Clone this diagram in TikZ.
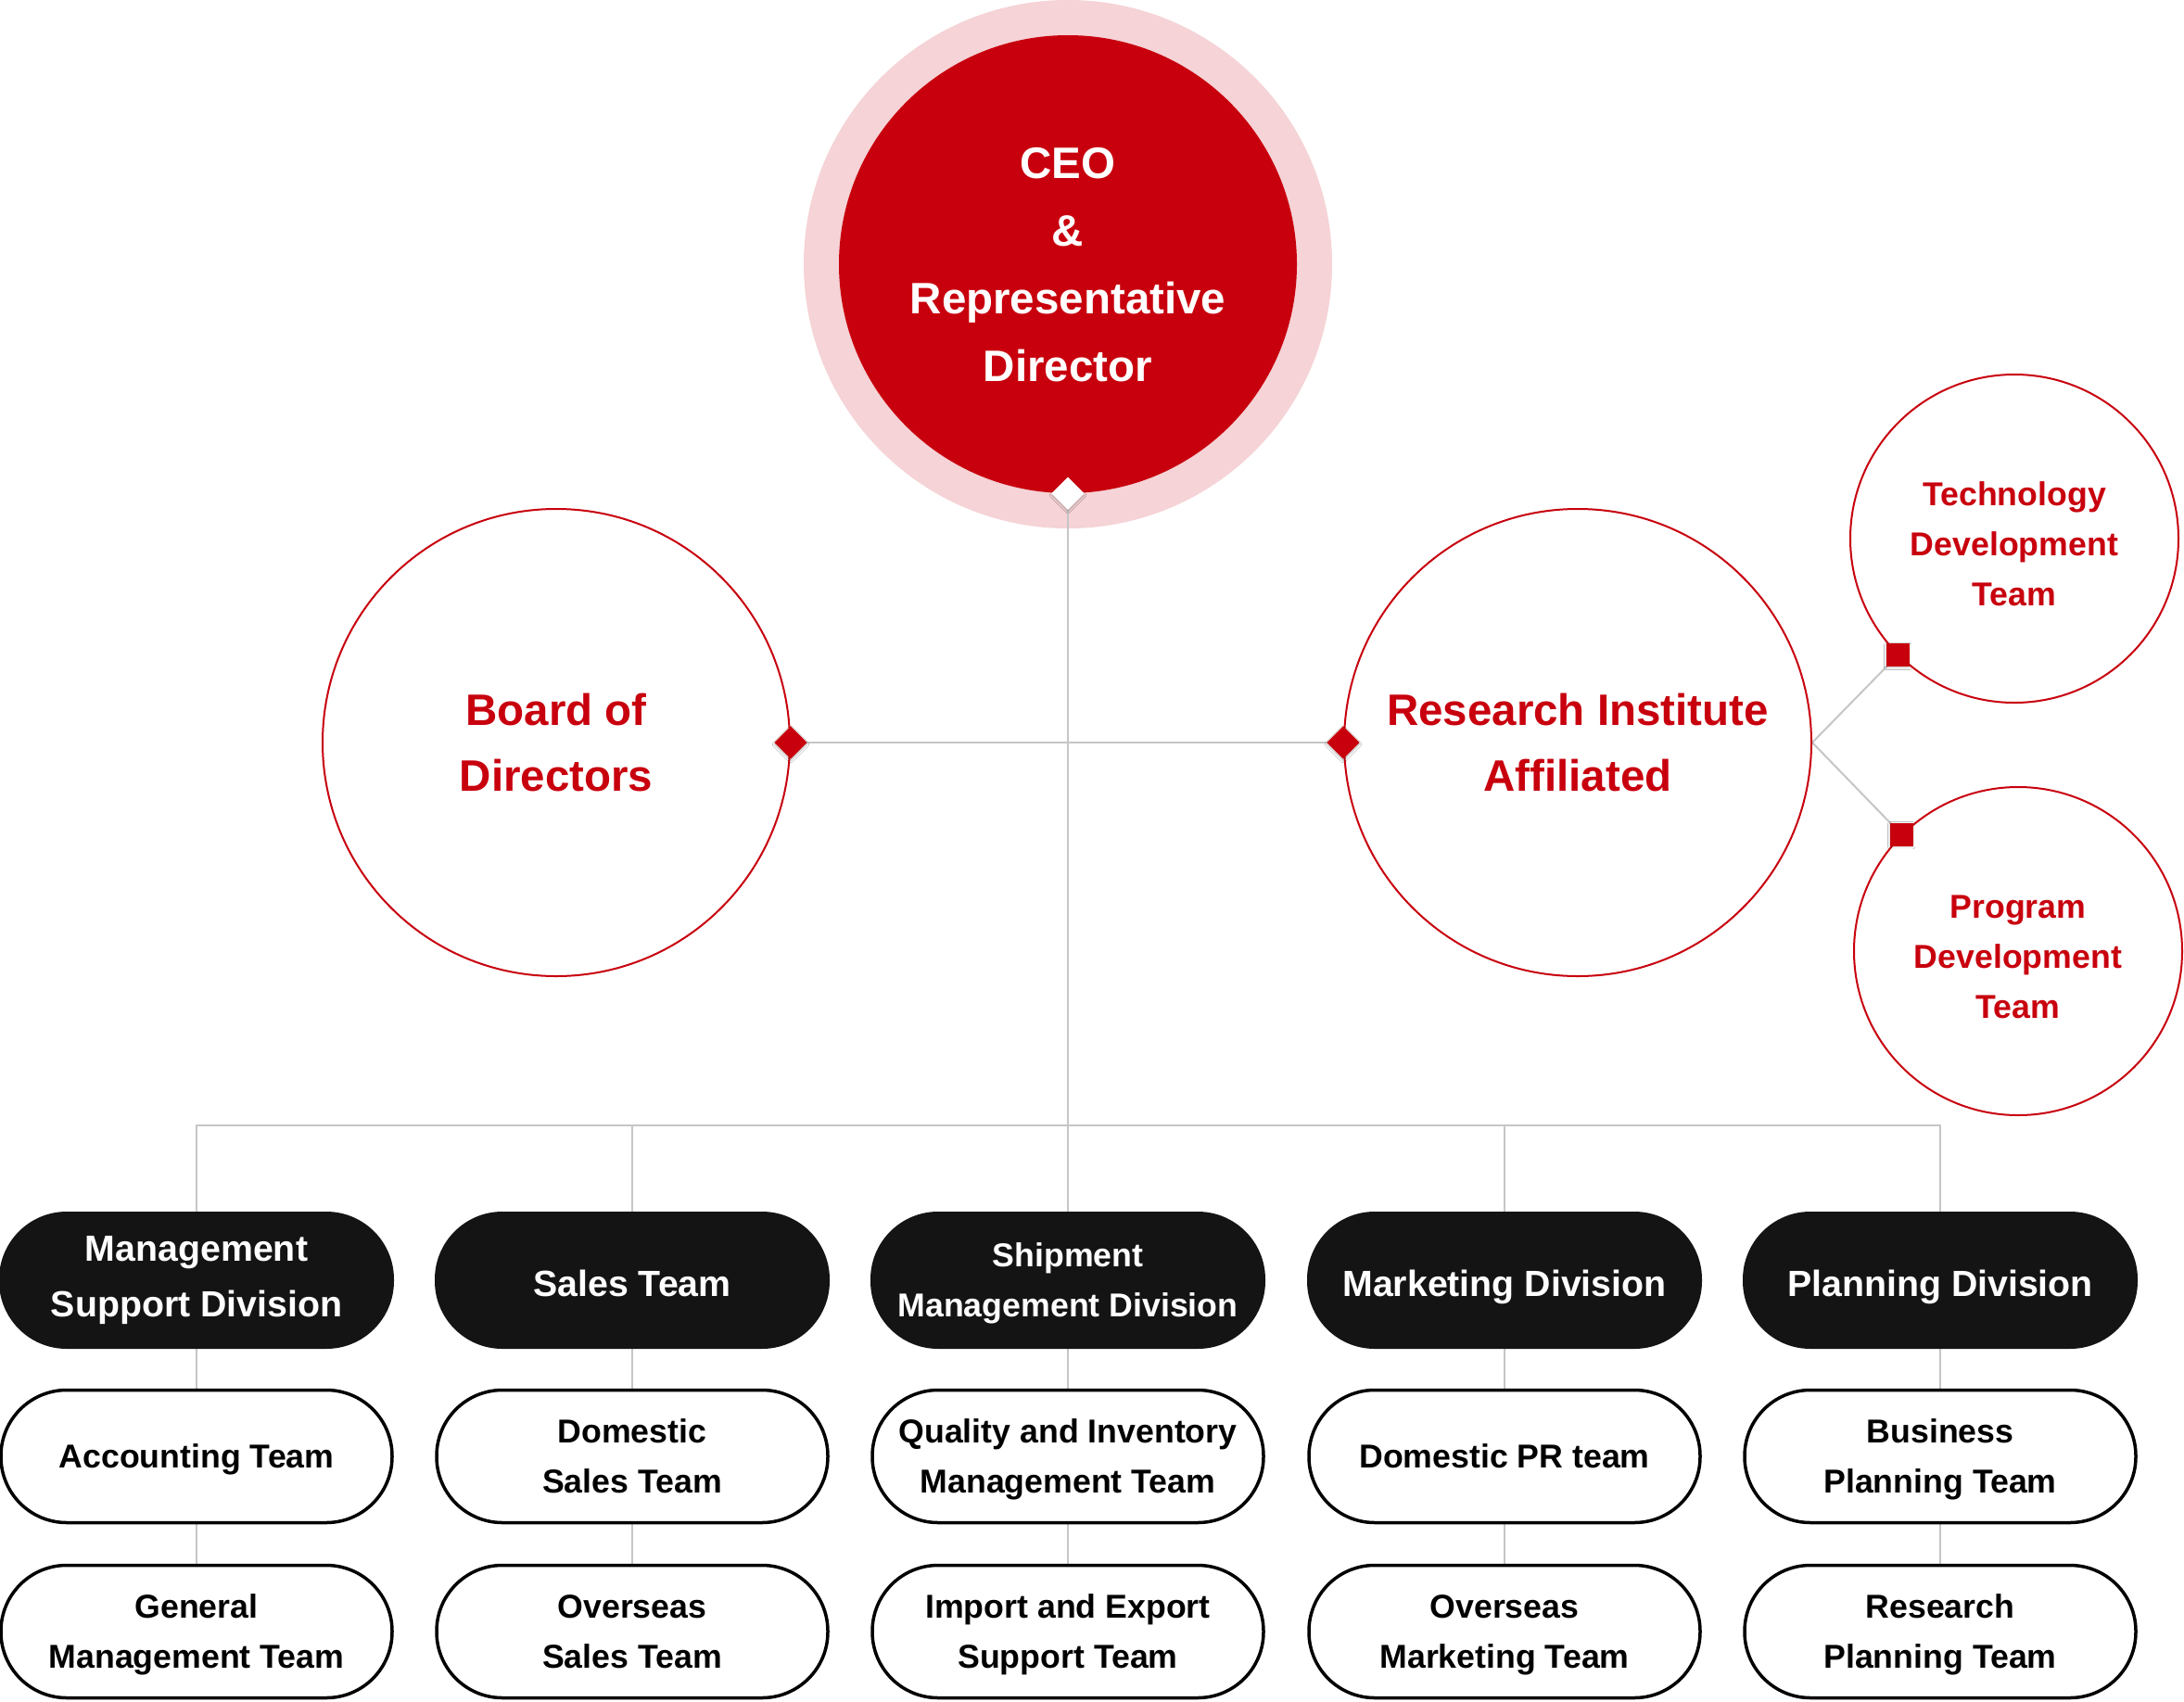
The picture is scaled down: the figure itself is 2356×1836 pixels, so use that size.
\documentclass[tikz,border=0pt]{standalone}
\usepackage{fontspec}
\setmainfont{Liberation Sans}
\usetikzlibrary{shadows.blur}
\definecolor{cred}{HTML}{C8000E}
\definecolor{cpink}{HTML}{F5D3D6}
\definecolor{cblack}{HTML}{141414}
\definecolor{cgrey}{HTML}{C6C6C6}
\newcommand\mystrut{\vrule width 0pt height 1.016em depth 0.3em\relax}
\newcommand\uphstrut{\vrule width 0pt height 1.17em\relax}
\newcommand\dnstrut{\vrule width 0pt depth 0.53em\relax}
\pgfdeclarelayer{bg}
\pgfsetlayers{bg,main}
\begin{document}
\begin{tikzpicture}[x=1pt,y=-1pt,
  every node/.style={execute at end node=\mystrut},
  conn/.style={draw=cgrey, line width=2pt},
  bigcirc/.style={circle, draw=cred, line width=2pt, fill=white, minimum size=504pt, inner sep=0pt, text=cred, font=\fontsize{47.5}{71}\selectfont\bfseries, align=center},
  smallcirc/.style={circle, draw=cred, line width=2pt, fill=white, minimum size=354pt, inner sep=0pt},
  smalltext/.style={text=cred, font=\fontsize{35.7}{54}\selectfont\bfseries, align=center, inner sep=0pt},
  divbox/.style={rectangle, rounded corners=73pt, fill=cblack, minimum width=426pt, minimum height=148pt, inner sep=0pt, text=white, align=center},
  divfont/.style={font=\fontsize{39.3}{60}\selectfont\bfseries},
  divsmall/.style={font=\fontsize{35.7}{54}\selectfont\bfseries},
  teambox/.style={rectangle, rounded corners=71pt, draw=black, line width=3.5pt, fill=white, minimum width=422pt, minimum height=143pt, inner sep=0pt, text=black, align=center, font=\fontsize{35.7}{54}\selectfont\bfseries},
  rdiam/.style={rectangle, rotate=45, fill=cred, minimum size=25pt, inner sep=0pt, blur shadow={shadow xshift=0pt, shadow yshift=-2pt, shadow opacity=25, shadow blur steps=6}},
  wdiam/.style={rectangle, rotate=45, fill=white, minimum size=25pt, inner sep=0pt, blur shadow={shadow xshift=0pt, shadow yshift=-2pt, shadow opacity=25, shadow blur steps=6}},
  rsq/.style={rectangle, fill=cred, minimum size=25pt, inner sep=0pt, blur shadow={shadow xshift=0pt, shadow yshift=-1pt, shadow opacity=20, shadow blur steps=6}}
]
\useasboundingbox (0,0) rectangle (2356,1836);

% top
\node[circle, fill=cpink, minimum size=570pt, inner sep=0pt] (ceoring) at (1152,285) {};
\node[circle, fill=cred, minimum size=494pt, inner sep=0pt, text=white, align=center, font=\fontsize{47.5}{73}\selectfont\bfseries] (ceo) at (1152,285) {\mystrut CEO\\\&\\Representative\\Director};

% middle
\node[bigcirc] (bod) at (600,801) {\mystrut Board of\\Directors};
\node[bigcirc] (ri) at (1702,801) {\mystrut Research Institute\\Affiliated};
\node[smallcirc] (td) at (2173,581) {};
\node[smalltext] (tdt) at ([yshift=-6pt]td.center) {\mystrut Technology\\Development\\Team};
\node[smallcirc] (pd) at (2177,1026) {};
\node[smalltext] (pdt) at ([yshift=-6pt]pd.center) {\mystrut Program\\Development\\Team};

% divisions
\node[divbox, divfont] (mgmt) at (212,1381) {\mystrut Management\\Support Division\dnstrut};
\node[divbox, divfont] (sales) at (682,1381) {\mystrut\uphstrut Sales Team};
\node[divbox, divsmall] (ship) at (1152,1381) {\mystrut Shipment\\Management Division};
\node[divbox, divfont] (mkt) at (1623,1381) {\mystrut\uphstrut Marketing Division};
\node[divbox, divfont] (plan) at (2093,1381) {\mystrut\uphstrut Planning Division};

% teams row 1
\node[teambox] (acc) at (212,1571) {\mystrut Accounting Team};
\node[teambox] (dsales) at (682,1571) {\mystrut Domestic\\Sales Team};
\node[teambox] (qim) at (1152,1571) {\mystrut Quality and Inventory\\Management Team};
\node[teambox] (dpr) at (1623,1571) {\mystrut Domestic PR team};
\node[teambox] (bpt) at (2093,1571) {\mystrut Business\\Planning Team};

% teams row 2
\node[teambox] (gmt) at (212,1760) {\mystrut General\\Management Team};
\node[teambox] (osales) at (682,1760) {\mystrut Overseas\\Sales Team};
\node[teambox] (ies) at (1152,1760) {\mystrut Import and Export\\Support Team};
\node[teambox] (omkt) at (1623,1760) {\mystrut Overseas\\Marketing Team};
\node[teambox] (rpt) at (2093,1760) {\mystrut Research\\Planning Team};

\coordinate (bus) at (1152,1214);

% CEO trunk (drawn over the ring, under the marker)
\draw[conn] (ceo.south) -- (ship.north);

% markers
\node[wdiam] (ceod) at (ceo.south) {};
\node[rdiam] (bodd) at (bod.east) {};
\node[rdiam] (rid) at (ri.west) {};
\node[rsq] (tds) at (td.225) {};
\node[rsq] (pds) at (pd.135) {};

\begin{pgfonlayer}{bg}
\fill[white] (0,0) rectangle (2356,1836);
\draw[conn] (bodd.center) -- (rid.center);
\draw[conn] (tds.center) -- (ri.east) -- (pds.center);
\draw[conn] (mgmt.north) -- (mgmt.north |- bus) -- (plan.north |- bus) -- (plan.north);
\draw[conn] (sales.north) -- (sales.north |- bus);
\draw[conn] (mkt.north) -- (mkt.north |- bus);
\foreach \a/\b/\c in {mgmt/acc/gmt, sales/dsales/osales, ship/qim/ies, mkt/dpr/omkt, plan/bpt/rpt}{
  \draw[conn] (\a.south) -- (\b.north);
  \draw[conn] (\b.south) -- (\c.north);
}
\end{pgfonlayer}
\end{tikzpicture}
\end{document}
